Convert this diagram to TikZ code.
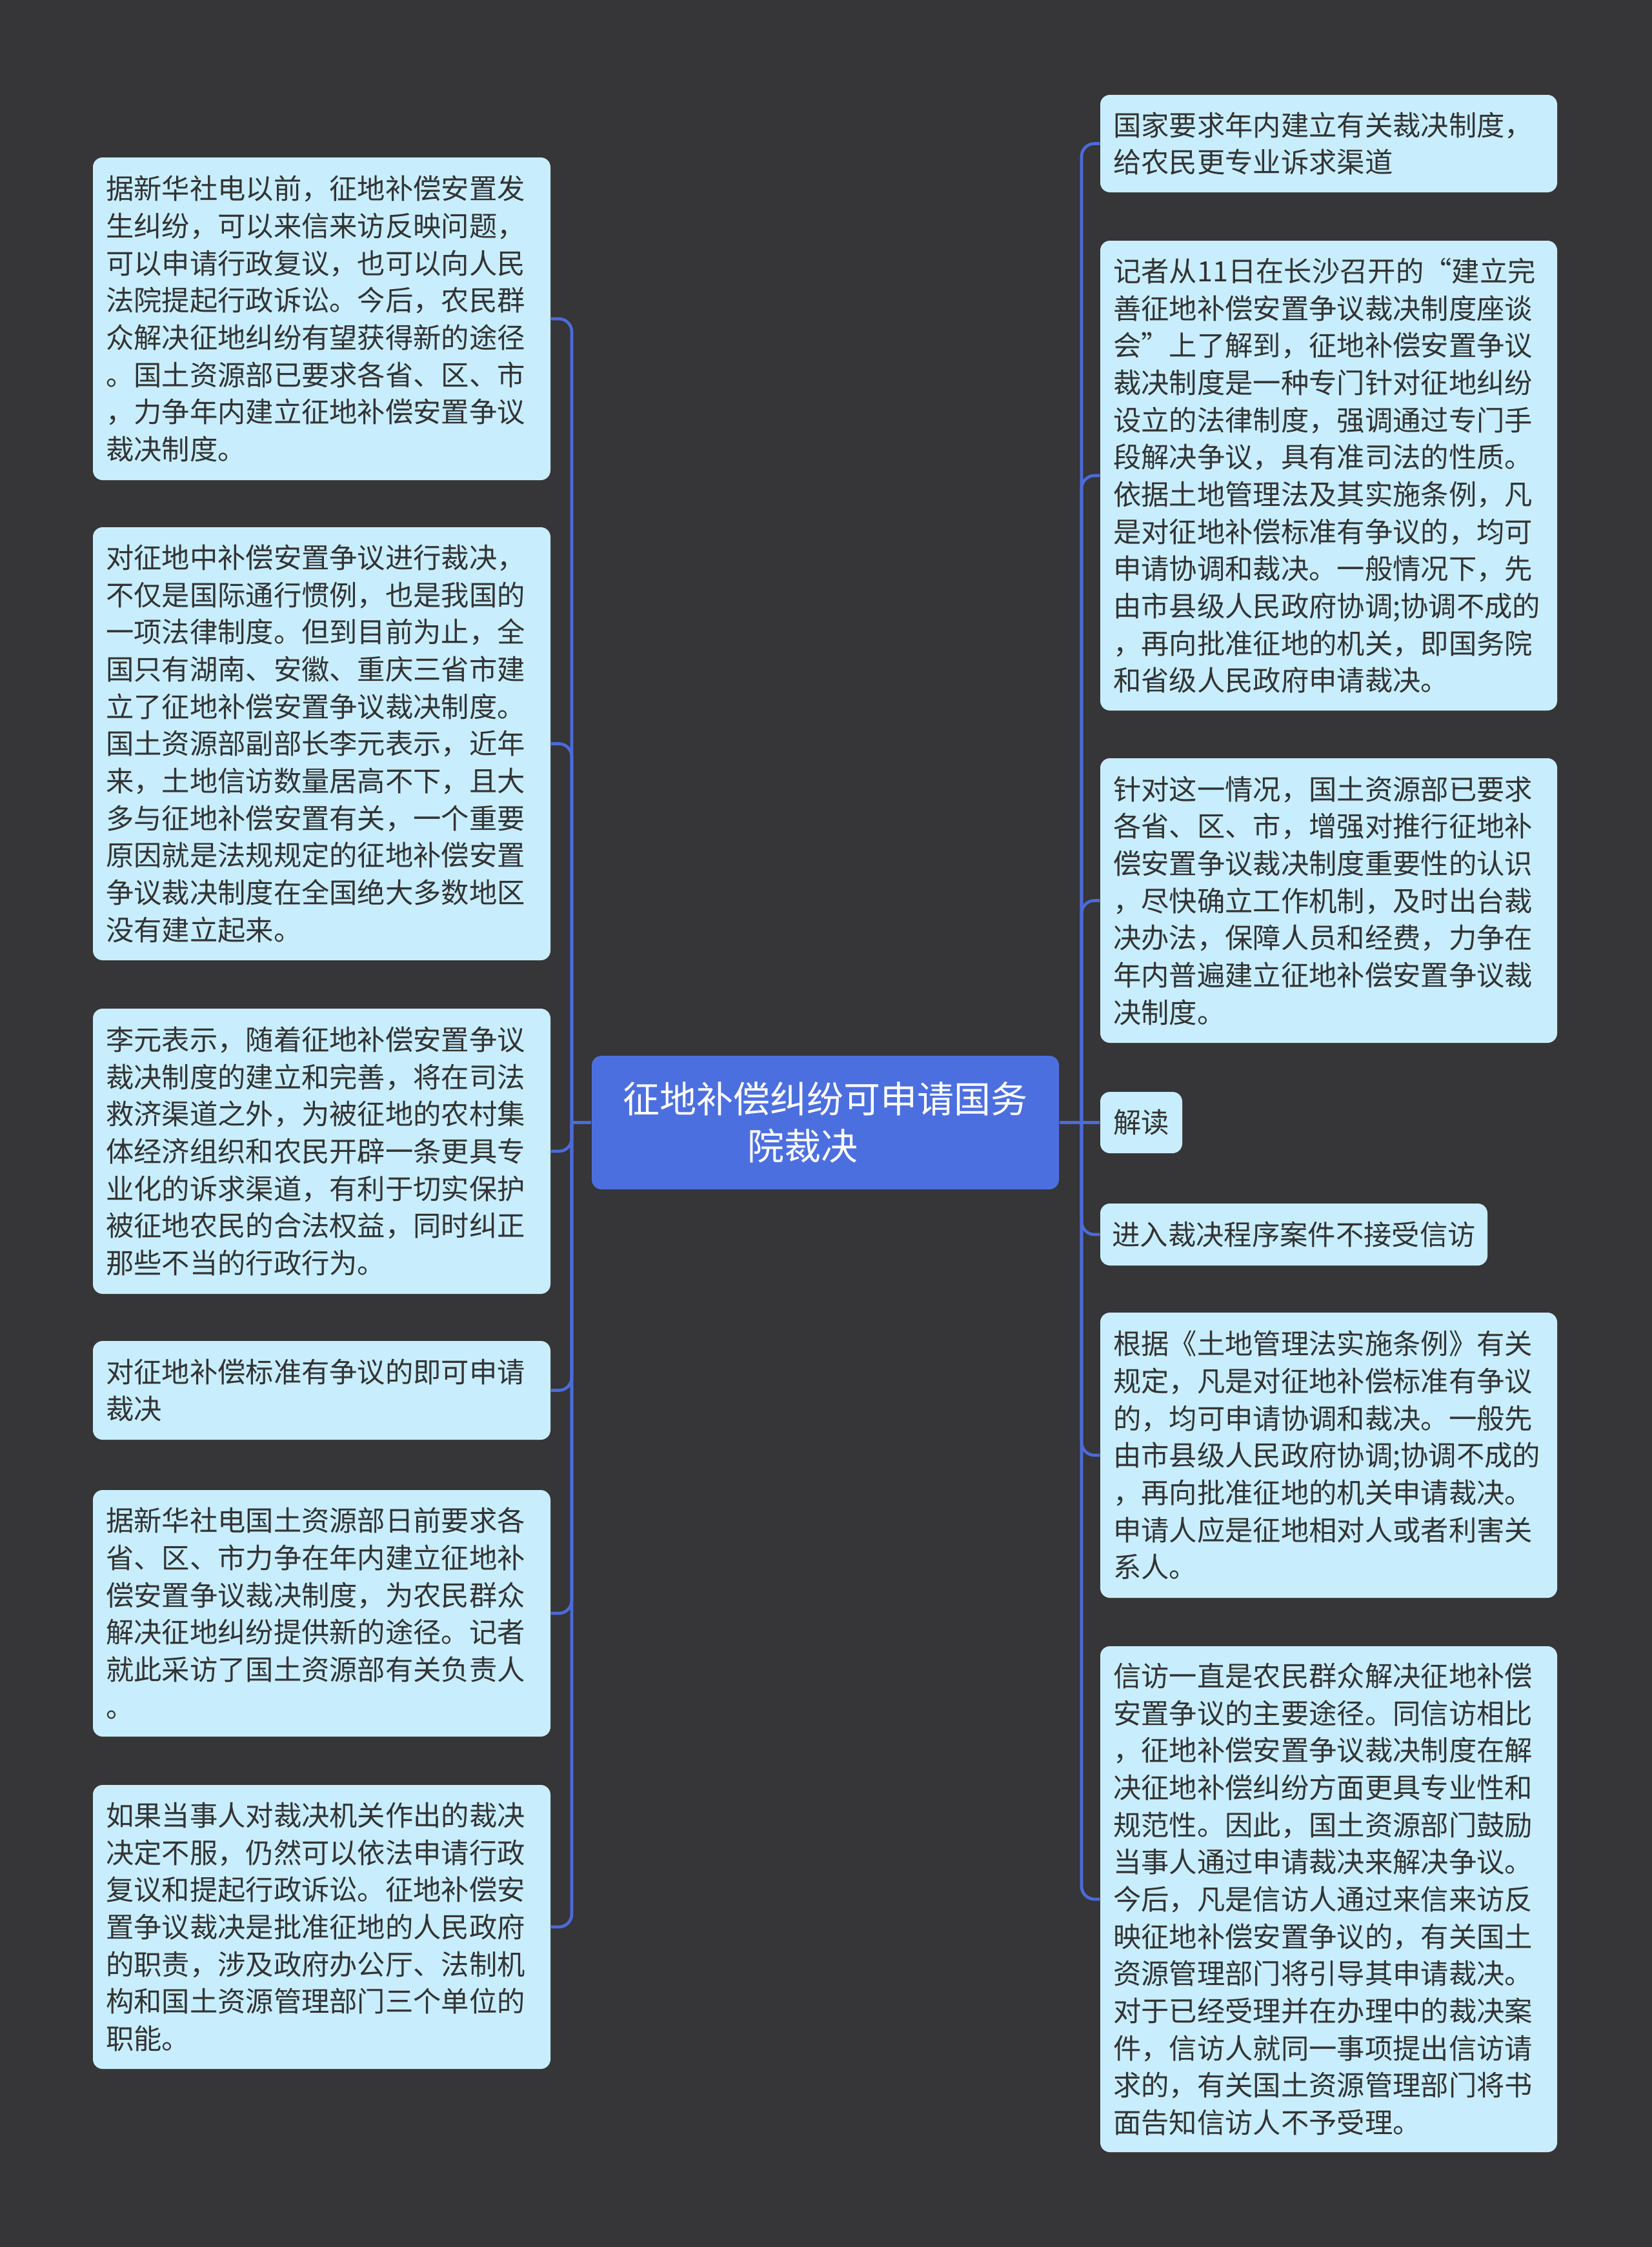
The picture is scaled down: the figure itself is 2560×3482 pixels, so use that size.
\documentclass[tikz,border=0pt]{standalone}
\usepackage{fontspec}
\setmainfont{Noto Sans CJK SC}
\definecolor{bgc}{HTML}{363537}
\definecolor{boxc}{HTML}{C8EEFD}
\definecolor{mainc}{HTML}{4C6FE0}
\definecolor{linec}{HTML}{4B6BDB}
\definecolor{txtc}{HTML}{333333}
\tikzset{
  leaf/.style={draw=none, fill=boxc, rounded corners=4.5pt, inner sep=0pt,
    text=txtc, align=left, font=\fontsize{13}{17.3}\selectfont},
  root/.style={draw=none, fill=mainc, rounded corners=4.5pt, inner sep=0pt,
    text=white, align=center, font=\fontsize{17.1}{21.9}\selectfont},
  conn/.style={draw=linec, line width=1.4pt, rounded corners=6pt},
}
\begin{document}
\begin{tikzpicture}[x=0.3pt, y=-0.3pt]
\fill[bgc] (0,0) rectangle (2560,3482);
\useasboundingbox (0,0) rectangle (2560,3482);

% root
\node[root, minimum width=217.2pt, minimum height=62.1pt] (C) at (1279,1739.5)
  {征地补偿纠纷可申请国务\\院裁决\hspace*{21pt}};

% left column
\node[leaf, minimum width=212.7pt, minimum height=150pt, text width=200.7pt] (L1) at (498.5,494)
  {据新华社电以前，征地补偿安置发\\生纠纷，可以来信来访反映问题，\\可以申请行政复议，也可以向人民\\法院提起行政诉讼。今后，农民群\\众解决征地纠纷有望获得新的途径\\。国土资源部已要求各省、区、市\\，力争年内建立征地补偿安置争议\\裁决制度。};
\node[leaf, minimum width=212.7pt, minimum height=201.3pt, text width=200.7pt] (L2) at (498.5,1152.5)
  {对征地中补偿安置争议进行裁决，\\不仅是国际通行惯例，也是我国的\\一项法律制度。但到目前为止，全\\国只有湖南、安徽、重庆三省市建\\立了征地补偿安置争议裁决制度。\\国土资源部副部长李元表示，近年\\来，土地信访数量居高不下，且大\\多与征地补偿安置有关，一个重要\\原因就是法规规定的征地补偿安置\\争议裁决制度在全国绝大多数地区\\没有建立起来。};
\node[leaf, minimum width=212.7pt, minimum height=132.6pt, text width=200.7pt] (L3) at (498.5,1784)
  {李元表示，随着征地补偿安置争议\\裁决制度的建立和完善，将在司法\\救济渠道之外，为被征地的农村集\\体经济组织和农民开辟一条更具专\\业化的诉求渠道，有利于切实保护\\被征地农民的合法权益，同时纠正\\那些不当的行政行为。};
\node[leaf, minimum width=212.7pt, minimum height=45.9pt, text width=200.7pt] (L4) at (498.5,2154.5)
  {对征地补偿标准有争议的即可申请\\裁决};
\node[leaf, minimum width=212.7pt, minimum height=114.6pt, text width=200.7pt] (L5) at (498.5,2500)
  {据新华社电国土资源部日前要求各\\省、区、市力争在年内建立征地补\\偿安置争议裁决制度，为农民群众\\解决征地纠纷提供新的途径。记者\\就此采访了国土资源部有关负责人\\。};
\node[leaf, minimum width=212.7pt, minimum height=132pt, text width=200.7pt] (L6) at (498.5,2986)
  {如果当事人对裁决机关作出的裁决\\决定不服，仍然可以依法申请行政\\复议和提起行政诉讼。征地补偿安\\置争议裁决是批准征地的人民政府\\的职责，涉及政府办公厅、法制机\\构和国土资源管理部门三个单位的\\职能。};

% right column
\node[leaf, minimum width=212.4pt, minimum height=45.3pt, text width=200.4pt] (R1) at (2059,222.5)
  {国家要求年内建立有关裁决制度，\\给农民更专业诉求渠道};
\node[leaf, minimum width=212.4pt, minimum height=218.4pt, text width=200.4pt] (R2) at (2059,737)
  {记者从11日在长沙召开的“建立完\\善征地补偿安置争议裁决制度座谈\\会”上了解到，征地补偿安置争议\\裁决制度是一种专门针对征地纠纷\\设立的法律制度，强调通过专门手\\段解决争议，具有准司法的性质。\\依据土地管理法及其实施条例，凡\\是对征地补偿标准有争议的，均可\\申请协调和裁决。一般情况下，先\\由市县级人民政府协调;协调不成的\\，再向批准征地的机关，即国务院\\和省级人民政府申请裁决。};
\node[leaf, minimum width=212.4pt, minimum height=132.3pt, text width=200.4pt] (R3) at (2059,1395.5)
  {针对这一情况，国土资源部已要求\\各省、区、市，增强对推行征地补\\偿安置争议裁决制度重要性的认识\\，尽快确立工作机制，及时出台裁\\决办法，保障人员和经费，力争在\\年内普遍建立征地补偿安置争议裁\\决制度。};
\node[leaf, minimum width=38.1pt, minimum height=28.5pt, align=center] (R4) at (1768.5,1739.5)
  {解读};
\node[leaf, minimum width=180pt, minimum height=28.8pt, align=center] (R5) at (2005,1913)
  {进入裁决程序案件不接受信访};
\node[leaf, minimum width=212.4pt, minimum height=132.6pt, text width=200.4pt] (R6) at (2059,2255)
  {根据《土地管理法实施条例》有关\\规定，凡是对征地补偿标准有争议\\的，均可申请协调和裁决。一般先\\由市县级人民政府协调;协调不成的\\，再向批准征地的机关申请裁决。\\申请人应是征地相对人或者利害关\\系人。};
\node[leaf, minimum width=212.4pt, minimum height=235.2pt, text width=200.4pt] (R7) at (2059,2943)
  {信访一直是农民群众解决征地补偿\\安置争议的主要途径。同信访相比\\，征地补偿安置争议裁决制度在解\\决征地补偿纠纷方面更具专业性和\\规范性。因此，国土资源部门鼓励\\当事人通过申请裁决来解决争议。\\今后，凡是信访人通过来信来访反\\映征地补偿安置争议的，有关国土\\资源管理部门将引导其申请裁决。\\对于已经受理并在办理中的裁决案\\件，信访人就同一事项提出信访请\\求的，有关国土资源管理部门将书\\面告知信访人不予受理。};

% connectors
\coordinate (jl) at (886,1739.5);
\coordinate (jr) at (1676,1739.5);
\draw[conn] (C.west) -- (jl);
\foreach \n in {L1,L2,L3,L4,L5,L6} {
  \draw[conn] (jl) |- (\n.east);
}
\draw[conn] (C.east) -- (R4.west);
\foreach \n in {R1,R2,R3,R5,R6,R7} {
  \draw[conn] (jr) |- (\n.west);
}
\end{tikzpicture}
\end{document}
